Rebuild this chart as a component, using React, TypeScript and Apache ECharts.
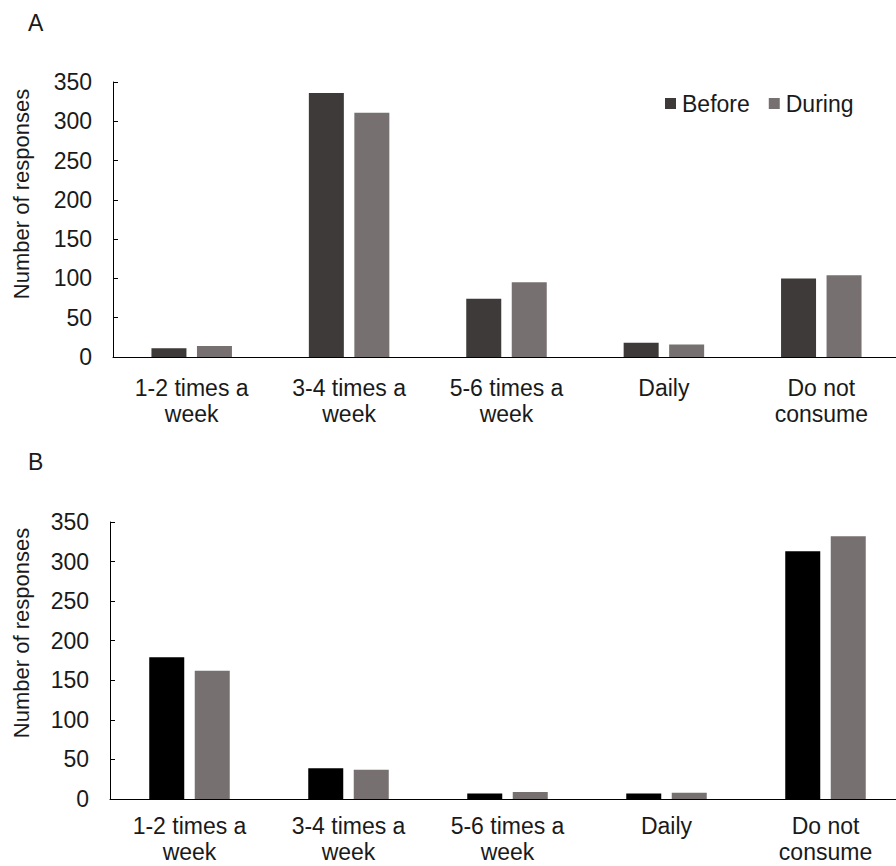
import React, { useEffect, useRef } from "react";
import * as echarts from "echarts";

const categories = ["1-2 times a\nweek", "3-4 times a\nweek", "5-6 times a\nweek", "Daily", "Do not\nconsume"];
const beforeA = [11, 336, 74, 18, 100];
const duringA = [14, 311, 95, 16, 104];
const beforeB = [179, 39, 7, 7, 313];
const duringB = [162, 37, 9, 8, 332];
const seriesNames = ["Before", "During"];
const panelLabels = ["A", "B"];
const yAxisTitle = "Number of responses";

const FONT = "'Liberation Sans', Arial, sans-serif";
const TXT = "#1a1a1a";
const COL_BEFORE_A = "#3d3a39";
const COL_BEFORE_B = "#000000";
const COL_DURING = "#767170";

export default function App() {
  const ref = useRef<HTMLDivElement>(null);
  useEffect(() => {
    if (!ref.current) return;
    const chart = echarts.init(ref.current, null, { renderer: "svg" });
    const xAxisBase = (gridIndex: number, margin: number) => ({
      type: "category",
      gridIndex,
      data: categories,
      boundaryGap: true,
      axisLine: { lineStyle: { color: "#000", width: 1 } },
      axisTick: { inside: true, length: 7, lineStyle: { color: "#000" } },
      axisLabel: {
        color: TXT,
        fontFamily: FONT,
        fontSize: 23,
        lineHeight: 26,
        margin,
        interval: 0,
      },
    });
    const yAxisBase = (gridIndex: number) => ({
      type: "value",
      gridIndex,
      min: 0,
      max: 350,
      interval: 50,
      splitLine: { show: false },
      axisLine: { show: true, lineStyle: { color: "#000", width: 1 } },
      axisTick: { show: true, inside: true, length: 5, lineStyle: { color: "#000" } },
      axisLabel: { color: TXT, fontFamily: FONT, fontSize: 23, margin: 21 },
    });
    const barBase = { type: "bar", barWidth: 35, barGap: "30%" };
    chart.setOption({
      animation: false,
      backgroundColor: "#ffffff",
      grid: [
        { left: 113, top: 82, width: 787, height: 275, outerBoundsMode: "none", containLabel: false },
        { left: 110, top: 522, width: 795, height: 277, outerBoundsMode: "none", containLabel: false },
      ],
      xAxis: [xAxisBase(0, 18), xAxisBase(1, 14)],
      yAxis: [yAxisBase(0), yAxisBase(1)],
      legend: {
        data: seriesNames,
        left: 665,
        top: 92,
        padding: 0,
        itemWidth: 11,
        itemHeight: 11,
        itemGap: 19,
        icon: "rect",
        textStyle: { color: TXT, fontFamily: FONT, fontSize: 23, padding: [0, 0, 0, 1] },
      },
      series: [
        { ...barBase, name: seriesNames[0], xAxisIndex: 0, yAxisIndex: 0, data: beforeA, itemStyle: { color: COL_BEFORE_A } },
        { ...barBase, name: seriesNames[1], xAxisIndex: 0, yAxisIndex: 0, data: duringA, itemStyle: { color: COL_DURING } },
        { ...barBase, name: seriesNames[0], xAxisIndex: 1, yAxisIndex: 1, data: beforeB, itemStyle: { color: COL_BEFORE_B } },
        { ...barBase, name: seriesNames[1], xAxisIndex: 1, yAxisIndex: 1, data: duringB, itemStyle: { color: COL_DURING } },
      ],
      graphic: [
        { type: "text", left: 28, top: 11, style: { text: panelLabels[0], fill: TXT, font: `23px ${FONT}` } },
        { type: "text", left: 28, top: 450, style: { text: panelLabels[1], fill: TXT, font: `23px ${FONT}` } },
        {
          type: "text",
          x: 21,
          y: 194,
          rotation: Math.PI / 2,
          style: { text: yAxisTitle, fill: TXT, font: `22px ${FONT}`, align: "center", verticalAlign: "middle" },
        },
        {
          type: "text",
          x: 21,
          y: 633,
          rotation: Math.PI / 2,
          style: { text: yAxisTitle, fill: TXT, font: `22px ${FONT}`, align: "center", verticalAlign: "middle" },
        },
      ],
    });
    return () => chart.dispose();
  }, []);
  return <div ref={ref} style={{ position: "absolute", left: 0, top: 0, width: 896, height: 866 }} />;
}
